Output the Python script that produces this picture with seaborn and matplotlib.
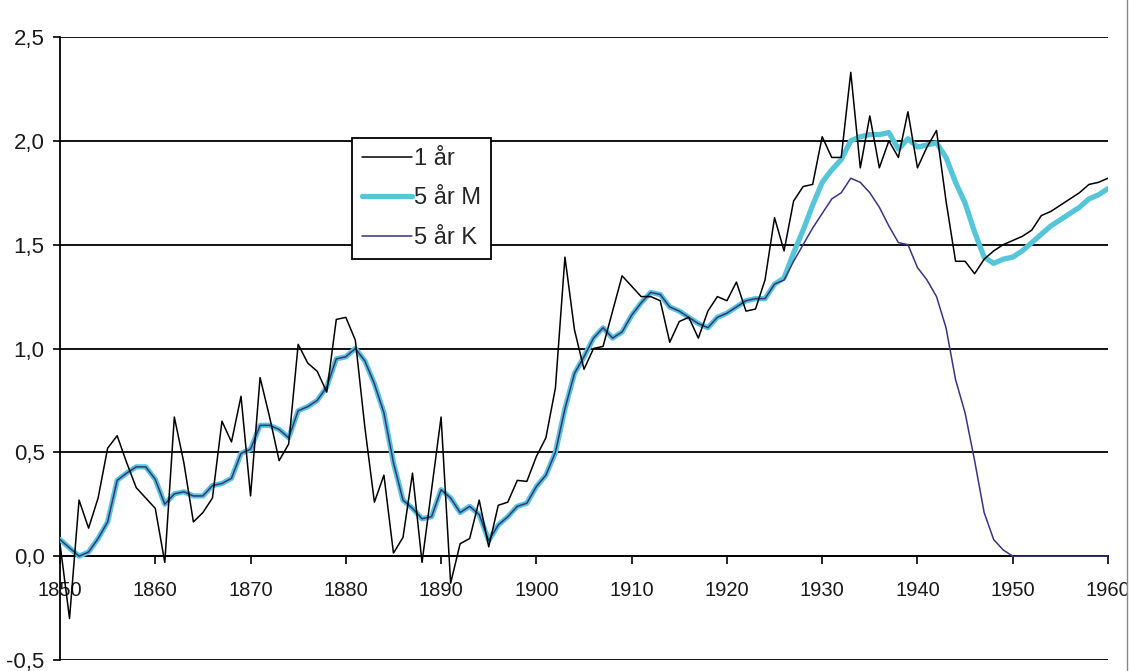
import matplotlib
matplotlib.use("Agg")
import matplotlib.pyplot as plt
from matplotlib.lines import Line2D
from matplotlib.patches import Rectangle
import seaborn as sns
import pandas as pd

years = list(range(1850, 1961))

one_year = [
    0.06, -0.30, 0.27, 0.135, 0.28, 0.52, 0.58, 0.45, 0.33, 0.28,   # 1850-1859
    0.23, -0.03, 0.67, 0.45, 0.165, 0.21, 0.28, 0.65, 0.55, 0.77,   # 1860-1869
    0.29, 0.86, 0.67, 0.46, 0.54, 1.02, 0.93, 0.89, 0.79, 1.14,     # 1870-1879
    1.15, 1.04, 0.62, 0.26, 0.39, 0.015, 0.09, 0.40, -0.03, 0.32,   # 1880-1889
    0.67, -0.13, 0.06, 0.085, 0.27, 0.045, 0.245, 0.26, 0.365, 0.36,  # 1890-1899
    0.48, 0.57, 0.81, 1.44, 1.09, 0.90, 1.00, 1.01, 1.18, 1.35,     # 1900-1909
    1.30, 1.25, 1.25, 1.23, 1.03, 1.13, 1.15, 1.05, 1.18, 1.25,     # 1910-1919
    1.23, 1.32, 1.18, 1.19, 1.33, 1.63, 1.47, 1.71, 1.78, 1.79,     # 1920-1929
    2.02, 1.92, 1.92, 2.33, 1.87, 2.12, 1.87, 2.00, 1.92, 2.14,     # 1930-1939
    1.87, 1.97, 2.05, 1.71, 1.42, 1.42, 1.36, 1.43, 1.47, 1.50,     # 1940-1949
    1.52, 1.54, 1.57, 1.64, 1.66, 1.69, 1.72, 1.75, 1.79, 1.80,     # 1950-1959
    1.82,                                                           # 1960
]

five_year_m = [
    0.08, 0.04, 0.00, 0.02, 0.085, 0.165, 0.365, 0.40, 0.43, 0.43,
    0.37, 0.25, 0.30, 0.31, 0.29, 0.29, 0.34, 0.35, 0.375, 0.495,
    0.515, 0.63, 0.63, 0.61, 0.57, 0.70, 0.72, 0.75, 0.815, 0.95,
    0.96, 1.00, 0.94, 0.83, 0.69, 0.45, 0.27, 0.23, 0.18, 0.19,
    0.32, 0.28, 0.21, 0.24, 0.20, 0.075, 0.15, 0.19, 0.24, 0.255,
    0.335, 0.39, 0.50, 0.71, 0.88, 0.96, 1.05, 1.10, 1.05, 1.08,
    1.16, 1.22, 1.27, 1.26, 1.20, 1.18, 1.15, 1.12, 1.10, 1.15,
    1.17, 1.20, 1.23, 1.24, 1.24, 1.31, 1.34, 1.46, 1.57, 1.69,
    1.80, 1.86, 1.91, 2.00, 2.02, 2.03, 2.03, 2.04, 1.96, 2.01,
    1.97, 1.98, 1.99, 1.92, 1.80, 1.70, 1.56, 1.44, 1.41, 1.43,
    1.44, 1.47, 1.51, 1.55, 1.59, 1.62, 1.65, 1.68, 1.72, 1.74,
    1.77,
]

five_year_k = [
    0.08, 0.04, 0.00, 0.02, 0.085, 0.165, 0.365, 0.40, 0.43, 0.43,
    0.37, 0.25, 0.30, 0.31, 0.29, 0.29, 0.34, 0.35, 0.375, 0.495,
    0.515, 0.63, 0.63, 0.61, 0.57, 0.70, 0.72, 0.75, 0.815, 0.95,
    0.96, 1.00, 0.94, 0.83, 0.69, 0.45, 0.27, 0.23, 0.18, 0.19,
    0.32, 0.28, 0.21, 0.24, 0.20, 0.075, 0.15, 0.19, 0.24, 0.255,
    0.335, 0.39, 0.50, 0.71, 0.88, 0.96, 1.05, 1.10, 1.05, 1.08,
    1.16, 1.22, 1.27, 1.26, 1.20, 1.18, 1.15, 1.12, 1.10, 1.15,
    1.17, 1.20, 1.23, 1.24, 1.24, 1.31, 1.33, 1.42, 1.50, 1.58,
    1.65, 1.72, 1.75, 1.82, 1.80, 1.75, 1.68, 1.59, 1.51, 1.50,
    1.39, 1.33, 1.25, 1.10, 0.85, 0.69, 0.46, 0.21, 0.08, 0.03,
    0.00, 0.00, 0.00, 0.00, 0.00, 0.00, 0.00, 0.00, 0.00, 0.00,
    0.00,
]

series_labels = ["1 år", "5 år M", "5 år K"]
x_ticks = [1850, 1860, 1870, 1880, 1890, 1900, 1910, 1920, 1930, 1940, 1950, 1960]
y_ticks = [-0.5, 0.0, 0.5, 1.0, 1.5, 2.0, 2.5]
y_tick_labels = ["-0,5", "0,0", "0,5", "1,0", "1,5", "2,0", "2,5"]

df = pd.DataFrame({"year": years, "one": one_year, "m": five_year_m, "k": five_year_k})

sns.set_style("white")
plt.rcParams["font.family"] = ["Liberation Sans", "DejaVu Sans"]

W, H = 1130, 671
fig = plt.figure(figsize=(W / 100, H / 100), dpi=100)
ax = fig.add_axes([60 / W, 1 - 660 / H, (1108 - 60) / W, (660 - 37) / H])

sns.lineplot(data=df, x="year", y="m", ax=ax, color="#56C5DA", linewidth=3.8,
             label=series_labels[1], zorder=3)
sns.lineplot(data=df, x="year", y="k", ax=ax, color="#38347F", linewidth=1.1,
             label=series_labels[2], zorder=4)
sns.lineplot(data=df, x="year", y="one", ax=ax, color="black", linewidth=1.1,
             label=series_labels[0], zorder=5)

ax.set_xlim(1850, 1960)
ax.set_ylim(-0.5, 2.5)
ax.set_xticks(x_ticks)
ax.set_yticks(y_ticks)
ax.set_yticklabels(y_tick_labels)
ax.set_xlabel("")
ax.set_ylabel("")

ax.yaxis.grid(True, color="black", linewidth=1.3)
ax.xaxis.grid(False)
ax.set_axisbelow(True)

for s in ["top", "right"]:
    ax.spines[s].set_visible(False)
ax.spines["left"].set_color("black")
ax.spines["left"].set_linewidth(1.3)
ax.spines["bottom"].set_position(("data", 0))
ax.spines["bottom"].set_color("black")
ax.spines["bottom"].set_linewidth(1.3)

ax.tick_params(axis="x", direction="out", length=6, width=1.2, color="black",
               pad=12, labelsize=14.5, labelcolor="#1a1a1a", bottom=True)
ax.tick_params(axis="y", direction="out", length=5, width=1.2, color="black",
               pad=6, labelsize=16, labelcolor="#1a1a1a", left=True)

handles, labels = ax.get_legend_handles_labels()
order = [labels.index(l) for l in series_labels]
leg = ax.legend([handles[i] for i in order], [labels[i] for i in order],
                loc="upper left", bbox_to_anchor=((352 - 60) / 1048, (660 - 138) / 623),
                frameon=True, fancybox=False, fontsize=17, handlelength=2.1,
                handletextpad=0.12, labelspacing=0.74, borderpad=0.42,
                borderaxespad=0.0)
leg.get_frame().set_edgecolor("black")
leg.get_frame().set_linewidth(1.3)
leg.get_frame().set_facecolor("white")
leg.get_frame().set_alpha(1.0)
leg.set_zorder(10)

fig.add_artist(Rectangle((1127 / W, 0), 3 / W, 1, color="white", zorder=20))
fig.add_artist(Line2D([1127 / W, 1127 / W], [0, 1], color="#888888", linewidth=1.0, zorder=21))

fig.savefig("out.png", dpi=100, facecolor="white")
